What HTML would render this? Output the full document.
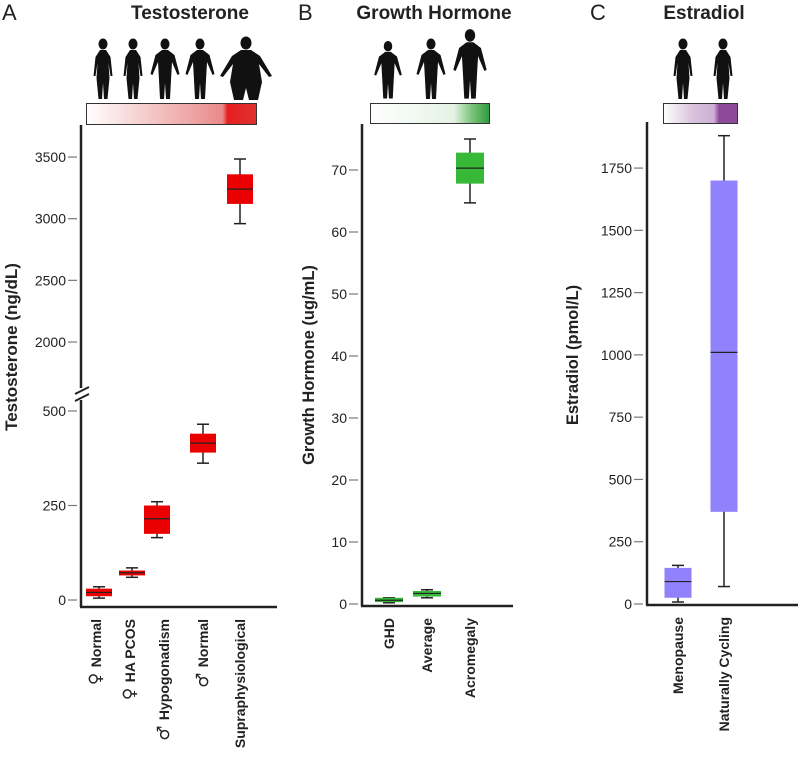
<!DOCTYPE html>
<html><head><meta charset="utf-8"><style>
body{margin:0;background:#fff;width:800px;height:768px;overflow:hidden;font-family:"Liberation Sans","DejaVu Sans",sans-serif}
svg text{font-family:"Liberation Sans","DejaVu Sans",sans-serif}
</style></head><body>
<svg id="c" width="800" height="768" viewBox="0 0 800 768" xmlns="http://www.w3.org/2000/svg">
<defs>
<linearGradient id="gA" x1="0" x2="1"><stop offset="0" stop-color="#fff"/><stop offset="0.8" stop-color="#e98a8a"/><stop offset="0.83" stop-color="#e51f1f"/><stop offset="1" stop-color="#e03030"/></linearGradient>
<linearGradient id="gB" x1="0" x2="1"><stop offset="0" stop-color="#fff"/><stop offset="0.7" stop-color="#e6f2e6"/><stop offset="0.85" stop-color="#7cc47c"/><stop offset="1" stop-color="#2e9a3c"/></linearGradient>
<linearGradient id="gC" x1="0" x2="1"><stop offset="0" stop-color="#fff"/><stop offset="0.4" stop-color="#d9c2de"/><stop offset="0.68" stop-color="#cdb0d4"/><stop offset="0.75" stop-color="#8e4a9a"/><stop offset="1" stop-color="#8e4a9a"/></linearGradient>
<g id="fem"><ellipse cx="0" cy="-44" rx="4.5" ry="5.5"/><path d="M-3,-38 L3,-38 L7.5,-31 L9.5,-12 L7.5,-12 L5.5,-25 L6.5,-10 L4.5,11 L1,11 L0,-5 L-1,11 L-4.5,11 L-6.5,-10 L-5.5,-25 L-7.5,-12 L-9.5,-12 L-7.5,-31 Z"/></g>
<g id="mal"><ellipse cx="0" cy="-44" rx="4.5" ry="5.5"/><path d="M-3,-38 L3,-38 L9.5,-33 L14.5,-14 L12.5,-13 L7,-26 L6,-8 L5,11 L1,11 L0,-5 L-1,11 L-5,11 L-6,-8 L-7,-26 L-12.5,-13 L-14.5,-14 L-9.5,-33 Z"/></g>
<g id="big"><ellipse cx="0" cy="-45" rx="5.5" ry="6.5"/><path d="M-5,-38 L5,-38 L14,-32 L26,-12 L23,-11 L13,-24 L16,-6 L12,12 L3,12 L0,0 L-3,12 L-12,12 L-16,-6 L-13,-24 L-23,-11 L-26,-12 L-14,-32 Z"/></g>
</defs>
<g font-size="22" fill="#222">
<text x="2" y="20">A</text><text x="298" y="20">B</text><text x="590" y="20">C</text></g>
<g font-size="19" font-weight="bold" fill="#222">
<text x="190" y="19" text-anchor="middle">Testosterone</text>
<text x="434" y="19" text-anchor="middle">Growth Hormone</text>
<text x="704" y="19" text-anchor="middle">Estradiol</text></g>
<g fill="#111">
<use href="#fem" x="103" y="88"/><use href="#fem" x="133" y="88"/><use href="#mal" x="165" y="88"/><use href="#mal" x="200" y="88"/><use href="#big" x="246" y="88"/>
<use href="#mal" x="388" y="88" transform="translate(388 88) scale(0.95) translate(-388 -88)"/><use href="#mal" x="431" y="88"/><use href="#mal" x="470" y="86" transform="translate(470 86) scale(1.15) translate(-470 -86)"/>
<use href="#fem" x="683" y="88"/><use href="#fem" x="723" y="88"/></g>
<rect x="86.5" y="103.5" width="170" height="21" fill="url(#gA)" stroke="#333"/>
<rect x="370.5" y="103.5" width="119" height="20" fill="url(#gB)" stroke="#333"/>
<rect x="663.5" y="103.5" width="74" height="20" fill="url(#gC)" stroke="#333"/>
<g id="plots"></g>
</svg>
<script>
// Panel A data
const catsA = ["♀ Normal","♀ HA PCOS","♂ Hypogonadism","♂ Normal","Supraphysiological"];
const minA = [5,60,165,362,2960];
const q1A = [10,65,175,390,3120];
const medA = [20,72,215,415,3240];
const q3A = [30,78,250,440,3360];
const maxA = [35,85,260,465,3484];
const ticksA = [0,250,500,2000,2500,3000,3500];
// Panel B data
const catsB = ["GHD","Average","Acromegaly"];
const minB = [0.2,1.0,64.7];
const q1B = [0.3,1.2,67.8];
const medB = [0.6,1.7,70.3];
const q3B = [1.0,2.1,72.8];
const maxB = [1.0,2.3,75];
const ticksB = [0,10,20,30,40,50,60,70];
// Panel C data
const catsC = ["Menopause","Naturally Cycling"];
const minC = [8,70];
const q1C = [25,370];
const medC = [90,1010];
const q3C = [145,1700];
const maxC = [155,1880];
const ticksC = [0,250,500,750,1000,1250,1500,1750];

const NS="http://www.w3.org/2000/svg";
const root=document.getElementById('plots');
function mk(t,a,p){const e=document.createElementNS(NS,t);for(const k in a)e.setAttribute(k,a[k]);(p||root).appendChild(e);return e;}

function yA(v){return v<=500?600-v*(189/500):342-(v-2000)*0.1233;}
function yB(v){return 604-v*6.2;}
function yC(v){return 604-v*0.2491;}

function panel(o){
  const g=mk('g',{});
  
  
  const ax=mk('line',{x1:o.ax,y1:o.top,x2:o.ax,y2:o.base,stroke:'#222','stroke-width':2.5},g);
  
  
  const bx=mk('line',{x1:o.ax-1,y1:o.base,x2:o.right,y2:o.base,stroke:'#222','stroke-width':2.5},g);
  
  
  o.ticks.forEach(t=>{
    const y=o.y(t);
    mk('line',{x1:o.ax-13,y1:y,x2:o.ax-4,y2:y,stroke:'#777','stroke-width':1.2},g);
    const tx=mk('text',{x:o.ax-15,y:y+5,'text-anchor':'end','font-size':14,fill:'#222'},g);
    tx.textContent=t;
    
    
  });
  const yl=mk('text',{transform:`translate(${o.tx},${o.tmid}) rotate(-90)`,'text-anchor':'middle','font-size':o.tfs,'font-weight':'bold',fill:'#222'},g);
  yl.textContent=o.title;
  
  
  o.cats.forEach((c,i)=>{
    const x=o.xs[i],w=o.w;
    const bg=mk('g',{},g);
    
    
    mk('line',{x1:x,y1:o.y(o.max[i]),x2:x,y2:o.y(o.min[i]),stroke:'#222','stroke-width':1.5},bg);
    mk('line',{x1:x-6,y1:o.y(o.max[i]),x2:x+6,y2:o.y(o.max[i]),stroke:'#222','stroke-width':1.5},bg);
    mk('line',{x1:x-6,y1:o.y(o.min[i]),x2:x+6,y2:o.y(o.min[i]),stroke:'#222','stroke-width':1.5},bg);
    const t=o.y(o.q3[i]),b=o.y(o.q1[i]);
    mk('rect',{x:x-w/2,y:t,width:w,height:Math.max(b-t,2),fill:o.color},bg);
    mk('line',{x1:x-w/2,y1:o.y(o.med[i]),x2:x+w/2,y2:o.y(o.med[i]),stroke:'#222','stroke-width':1.2},bg);
    const lx=o.lx?o.lx[i]:x;
    const lb=mk('text',{transform:`translate(${lx+5},${o.base+12}) rotate(-90)`,'text-anchor':'end','font-size':14,'font-weight':'bold',fill:'#222'},g);
    const m=c.match(/^([♀♂]) (.*)$/);
    if(m){
      const s=mk('tspan',{'font-family':'DejaVu Sans','font-weight':'normal','font-size':17},lb);
      s.textContent=m[1]+' ';
      const r=mk('tspan',{},lb);
      r.textContent=m[2];
    } else lb.textContent=c;
    
    
  });
}
panel({name:'testosterone',ax:81,top:125,base:607,right:277,y:yA,ticks:ticksA,cats:catsA,xs:[99,132,157,203,240],lx:[96,130,164,203,240],w:26,min:minA,q1:q1A,med:medA,q3:q3A,max:maxA,color:'#ea0000',title:'Testosterone (ng/dL)',tx:17,tmid:347,tfs:17});
panel({name:'growth-hormone',ax:362,top:124,base:606,right:513,y:yB,ticks:ticksB,cats:catsB,xs:[389,427,470],w:28,min:minB,q1:q1B,med:medB,q3:q3B,max:maxB,color:'#37b937',title:'Growth Hormone (ug/mL)',tx:314,tmid:365,tfs:16.5});
panel({name:'estradiol',ax:647,top:122,base:605,right:798,y:yC,ticks:ticksC,cats:catsC,xs:[678,724],w:27,min:minC,q1:q1C,med:medC,q3:q3C,max:maxC,color:'#9181fb',title:'Estradiol (pmol/L)',tx:578,tmid:355,tfs:16.5});
// axis break
const br=mk('g',{});


mk('rect',{x:76,y:388,width:12,height:12,fill:'#fff'},br);
mk('line',{x1:75,y1:394,x2:89,y2:387,stroke:'#222','stroke-width':2},br);
mk('line',{x1:75,y1:401,x2:89,y2:394,stroke:'#222','stroke-width':2},br);
</script>
</body></html>
